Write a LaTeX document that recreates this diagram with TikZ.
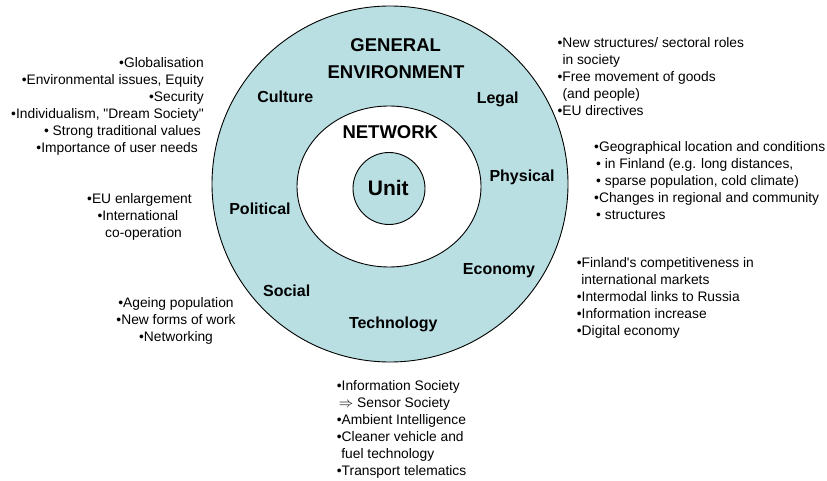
\documentclass[tikz,border=0pt]{standalone}
\usepackage{fontspec}
\setmainfont{Liberation Sans}
\usetikzlibrary{shapes.geometric}
\definecolor{envfill}{RGB}{185,223,227}
\begin{document}
\begin{tikzpicture}[x=1pt,y=-1pt,
  ring/.style={draw=black, line width=0.9pt, inner sep=0pt, outer sep=0pt},
  lab/.style={font=\bfseries\fontsize{16}{19}\selectfont, inner sep=0pt, text height=11.5pt, text depth=0pt},
  biglab/.style={font=\bfseries\fontsize{18.5}{22}\selectfont, inner sep=0pt, text height=13.3pt, text depth=0pt},
  note/.style={font=\fontsize{13.8}{17.1}\selectfont, inner sep=0pt}]
\useasboundingbox (0,0) rectangle (827,481);
\node[ring, circle, fill=envfill, minimum size=356pt] (outer) at (390,184) {};
\node[ring, ellipse, fill=white, minimum width=184pt, minimum height=161pt] (network) at (389,186.5) {};
\node[ring, circle, fill=envfill, minimum size=72pt] (unitc) at (389,188.5) {};

\node[biglab] (general) at (395.7,45) {GENERAL};
\node[biglab] (environment) at (396,71.7) {ENVIRONMENT};
\node[biglab] (networklab) at (390.3,131.7) {NETWORK};
\node[font=\bfseries\fontsize{21}{25}\selectfont, inner sep=0pt, text height=15pt, text depth=0pt] (unit) at (388.3,187.7) {Unit};
\node[lab] (culture) at (285.3,96.7) {Culture};
\node[lab] (legal) at (497.7,97.3) {Legal};
\node[lab] (physical) at (522,176) {Physical};
\node[lab] (political) at (260,208.3) {Political};
\node[lab] (economy) at (499,268.3) {Economy};
\node[lab] (social) at (286.7,290.7) {Social};
\node[lab] (technology) at (393.3,322.7) {Technology};

\node[note, anchor=north east, align=right] (culturenote) at (204,55)
  {\strut•Globalisation\\•Environmental issues, Equity\\•Security\\•Individualism, \textquotedbl Dream Society\textquotedbl\\• Strong traditional values\kern3pt\\•Importance of user needs\kern6pt};
\node[note, anchor=north west, align=left] (legalnote) at (557.3,35)
  {\strut•New structures/ sectoral roles\\\kern5pt in society\\•Free movement of goods\\\kern5pt (and people)\\•EU directives};
\node[note, anchor=north west, align=left] (physicalnote) at (594,139)
  {\strut•Geographical location and conditions\\\kern2pt• in Finland (e.g. long distances,\\\kern2pt• sparse population, cold climate)\\•Changes in regional and community\\\kern2pt• structures};
\node[note, anchor=north west, align=left] (economynote) at (576.7,255)
  {\strut•Finland\textquotesingle s competitiveness in\\\kern4.5pt international markets\\•Intermodal links to Russia\\•Information increase\\•Digital economy};
\node[note, anchor=north west, align=left] (technote) at (336.7,378)
  {\strut•Information Society\\\kern2pt$\Rightarrow$ Sensor Society\\•Ambient Intelligence\\•Cleaner vehicle and\\\kern4.5pt fuel technology\\•Transport telematics};
\node[note, anchor=north west, align=left] (politicalnote) at (87,191)
  {\strut•EU enlargement\\\kern10.3pt •International\\\kern18pt co-operation};
\node[note, anchor=north, align=center] (socialnote) at (176,295.5)
  {\strut•Ageing population\\•New forms of work\\•Networking};
\end{tikzpicture}
\end{document}
